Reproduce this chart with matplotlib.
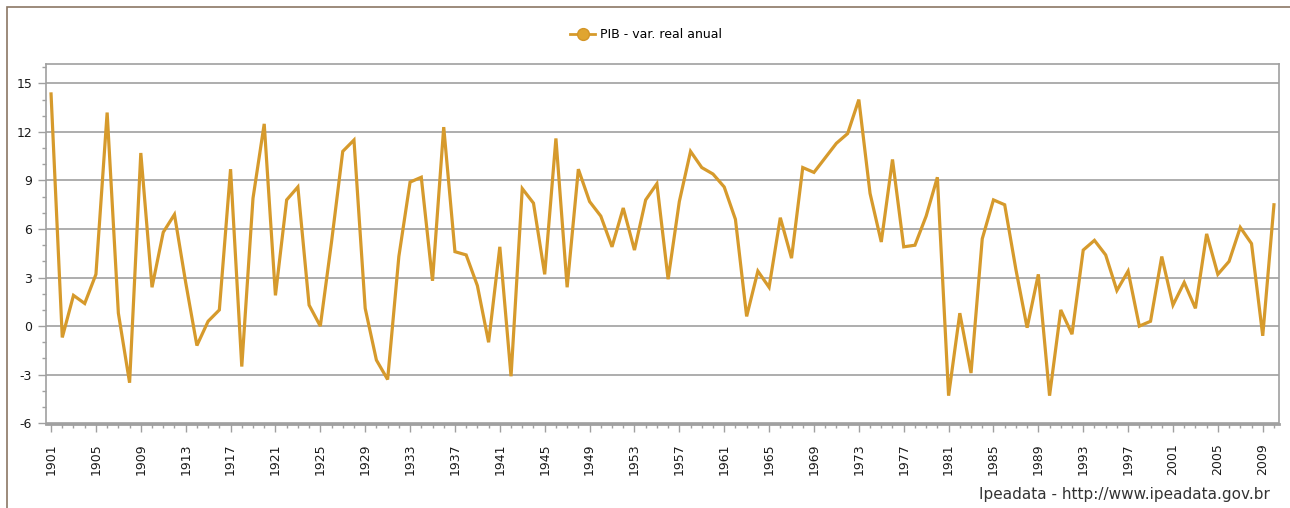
import matplotlib
matplotlib.use("Agg")
import matplotlib.pyplot as plt
from matplotlib.ticker import MultipleLocator
from matplotlib.lines import Line2D
from matplotlib.patches import Rectangle

plt.rcParams["axes.unicode_minus"] = False

years = list(range(1901, 2011))
pib = [
    14.35, -0.7, 1.9, 1.4, 3.2, 13.2, 0.8, -3.5, 10.7, 2.4,
    5.8, 6.9, 2.7, -1.2, 0.3, 1.0, 9.7, -2.5, 7.9, 12.5,
    1.9, 7.8, 8.6, 1.3, 0.0, 5.2, 10.8, 11.5, 1.1, -2.1,
    -3.3, 4.3, 8.9, 9.2, 2.8, 12.3, 4.6, 4.4, 2.5, -1.0,
    4.9, -3.1, 8.5, 7.6, 3.2, 11.6, 2.4, 9.7, 7.7, 6.8,
    4.9, 7.3, 4.7, 7.8, 8.8, 2.9, 7.7, 10.8, 9.8, 9.4,
    8.6, 6.6, 0.6, 3.4, 2.4, 6.7, 4.2, 9.8, 9.5, 10.4,
    11.3, 11.9, 14.0, 8.2, 5.2, 10.3, 4.9, 5.0, 6.8, 9.2,
    -4.3, 0.8, -2.9, 5.4, 7.8, 7.5, 3.5, -0.1, 3.2, -4.3,
    1.0, -0.5, 4.7, 5.3, 4.4, 2.2, 3.4, 0.0, 0.3, 4.3,
    1.3, 2.7, 1.1, 5.7, 3.2, 4.0, 6.1, 5.1, -0.6, 7.5,
]
tick_years = list(range(1901, 2011, 4))
yticks = [-6, -3, 0, 3, 6, 9, 12, 15]
series_label = "PIB - var. real anual"
source_text = "Ipeadata - http://www.ipeadata.gov.br"

line_color = "#D69A2C"
grid_color = "#A0A0A0"

fig = plt.figure(figsize=(12.9, 5.08), dpi=100)
fig.patch.set_facecolor("white")

# outer frame (brown)
fig.add_artist(Rectangle((6.5 / 1290, -0.1), 1.2, 1 - 7 / 508 + 0.1,
                         transform=fig.transFigure, fill=False,
                         edgecolor="#8B7765", linewidth=1.2))

ax = fig.add_axes([46 / 1290, 1 - 424 / 508, (1279 - 46) / 1290, (424 - 64) / 508])
ax.plot(years, pib, color=line_color, linewidth=2.3, solid_joinstyle="miter")

ax.set_xlim(1900.55, 2010.45)
ax.set_ylim(-6.05, 16.2)

ax.set_yticks(yticks)
ax.yaxis.set_minor_locator(MultipleLocator(1))
ax.set_xticks(tick_years)
ax.set_xticklabels([str(y) for y in tick_years], rotation=90)
ax.xaxis.set_minor_locator(MultipleLocator(1))

ax.grid(axis="y", which="major", color=grid_color, linewidth=1.2)
ax.set_axisbelow(True)

for s in ax.spines.values():
    s.set_color(grid_color)
    s.set_linewidth(1.2)
ax.spines["bottom"].set_linewidth(2.0)

ax.tick_params(axis="both", which="major", colors=grid_color, labelcolor="#1a1a1a",
               labelsize=9, length=6, width=1.0)
ax.tick_params(axis="both", which="minor", colors=grid_color, length=3, width=1.0)
ax.tick_params(axis="x", which="major", pad=8)
ax.tick_params(axis="y", which="major", pad=4)

# legend
handle = Line2D([0], [0], color=line_color, linewidth=2, marker="o",
                markersize=8.5, markerfacecolor="#E0A530", markeredgecolor="#D39527")
fig.legend([handle], [series_label], loc="center", bbox_to_anchor=(646 / 1290, 1 - 35 / 508),
           frameon=False, fontsize=9, handlelength=2.0, handletextpad=0.4)

fig.text(1270 / 1290, 1 - 494 / 508, source_text, ha="right", va="center",
         fontsize=11, color="#333333")

fig.savefig("out.png", dpi=100, facecolor="white")
